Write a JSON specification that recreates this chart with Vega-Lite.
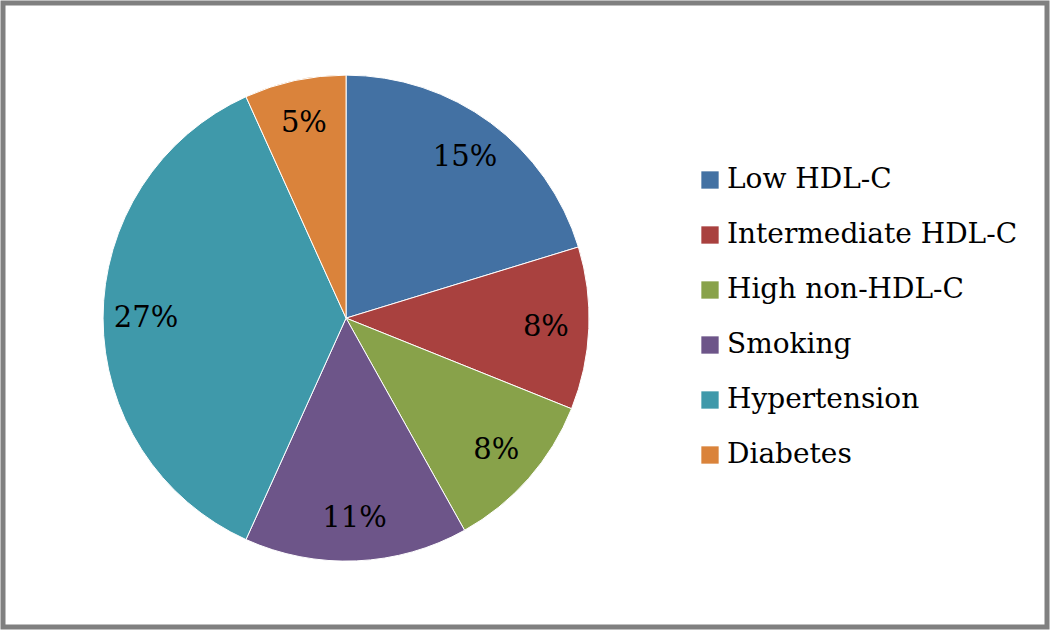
{
  "$schema": "https://vega.github.io/schema/vega-lite/v6.json",
  "width": 1050,
  "height": 630,
  "autosize": {"type": "fit", "contains": "padding"},
  "padding": 0,
  "background": "white",
  "config": {
    "view": {"stroke": null},
    "font": "DejaVu Serif"
  },
  "data": {
    "values": [
      {"factor": "\u00a0Low HDL-C", "value": 15, "idx": 1},
      {"factor": "Intermediate HDL-C", "value": 8, "idx": 2},
      {"factor": "High non-HDL-C", "value": 8, "idx": 3},
      {"factor": "Smoking", "value": 11, "idx": 4},
      {"factor": "Hypertension", "value": 27, "idx": 5},
      {"factor": "Diabetes", "value": 5, "idx": 6}
    ]
  },
  "layer": [
    {
      "mark": {"type": "arc", "outerRadius": 243, "x": {"expr": "width*0.3286"}, "y": {"expr": "height*0.505"}, "stroke": "white", "strokeWidth": 1},
      "encoding": {
        "theta": {"field": "value", "type": "quantitative", "stack": true},
        "order": {"field": "idx", "type": "quantitative"},
        "color": {
          "field": "factor",
          "type": "nominal",
          "scale": {
            "domain": ["\u00a0Low HDL-C", "Intermediate HDL-C", "High non-HDL-C", "Smoking", "Hypertension", "Diabetes"],
            "range": ["#4371A3", "#A9413F", "#88A24A", "#6D5589", "#3F99AA", "#DA833B"]
          },
          "legend": {
            "title": null,
            "orient": "none",
            "legendX": 693,
            "legendY": 163,
            "symbolType": "square",
            "symbolSize": 300,
            "symbolStrokeWidth": 0,
            "labelFontSize": 28,
            "labelFont": "DejaVu Serif",
            "labelColor": "black",
            "labelOffset": 3,
            "rowPadding": 27,
            "labelLimit": 500
          }
        }
      }
    },
    {
      "mark": {"type": "text", "radius": 200, "x": {"expr": "width*0.3286"}, "y": {"expr": "height*0.505"}, "fontSize": 29, "font": "DejaVu Serif", "color": "black", "text": {"expr": "datum.value + '%'"}},
      "encoding": {
        "theta": {"field": "value", "type": "quantitative", "stack": true},
        "order": {"field": "idx", "type": "quantitative"}
      }
    },
    {
      "data": {"values": [{"frame": 1}]},
      "mark": {"type": "rect", "fill": null, "stroke": "#808080", "strokeWidth": 5},
      "encoding": {}
    }
  ]
}
